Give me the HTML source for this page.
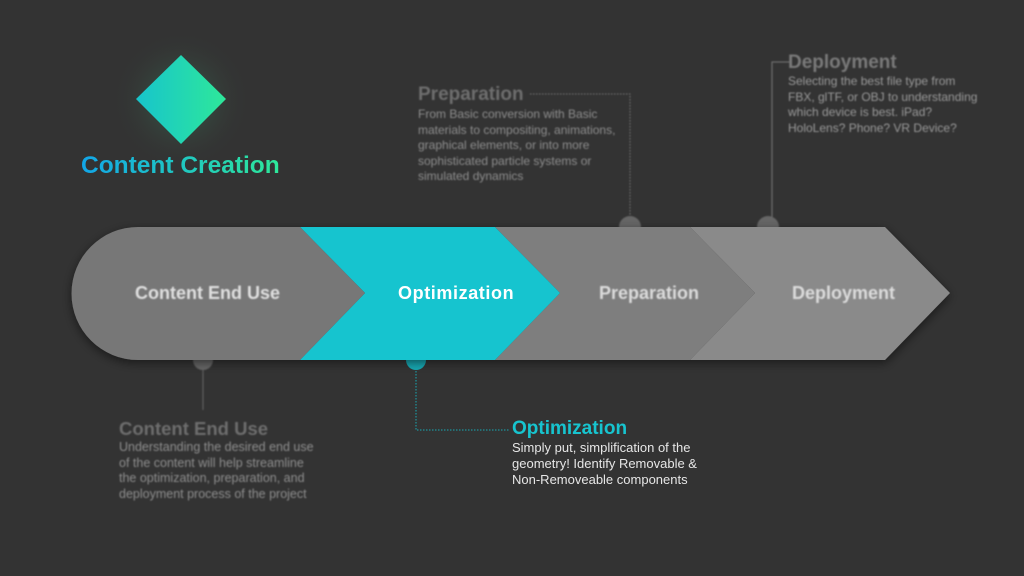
<!DOCTYPE html>
<html><head><meta charset="utf-8"><style>
html,body{margin:0;padding:0;width:1024px;height:576px;overflow:hidden;background:#333333;font-family:"Liberation Sans",sans-serif;}
.t{position:absolute;white-space:nowrap;}
.blur{filter:blur(0.8px);}
.h{font-weight:bold;font-size:18.5px;color:#6e6e6e;}
.p{font-size:12px;line-height:15.5px;color:#8e8e8e;}
</style></head><body>
<svg width="1024" height="576" style="position:absolute;left:0;top:0">
<defs>
<linearGradient id="g" x1="0" y1="0" x2="1" y2="0"><stop offset="0" stop-color="#17c4cc"/><stop offset="1" stop-color="#2ee89a"/></linearGradient>
<radialGradient id="glow"><stop offset="0" stop-color="#3a6e55" stop-opacity="0.8"/><stop offset="1" stop-color="#333" stop-opacity="0"/></radialGradient>
<filter id="sh" x="-10%" y="-20%" width="120%" height="140%"><feDropShadow dx="0" dy="3" stdDeviation="5" flood-color="#000" flood-opacity="0.5"/></filter>
<filter id="b"><feGaussianBlur stdDeviation="0.8"/></filter>
</defs>
<circle cx="181" cy="100" r="70" fill="url(#glow)"/>
<polygon points="181,55 226,99 181,144 136,99" fill="url(#g)"/>
<g filter="url(#b)">
<polyline points="530,94 630,94 630,218" fill="none" stroke="#777" stroke-width="1" stroke-dasharray="1.5,1.5"/>
<polyline points="790,62 772,62 772,218" fill="none" stroke="#777" stroke-width="1"/>
<circle cx="630" cy="227" r="11" fill="#666"/>
<circle cx="768" cy="227" r="11" fill="#666"/>
<line x1="203" y1="362" x2="203" y2="410" stroke="#666"/>
<circle cx="203" cy="360" r="10" fill="#666"/>
</g>
<circle cx="416" cy="360" r="10" fill="#17a8b3"/>
<polyline points="416,365 416,430 510,430" fill="none" stroke="#17a8b3" stroke-width="1" stroke-dasharray="1.5,1.5"/>
<g filter="url(#sh)">
<polygon points="690,227 885,227 950,293 885,360 690,360 755,293" fill="#8a8a8a"/>
<polygon points="495,227 690,227 755,293 690,360 495,360 560,293" fill="#7e7e7e"/>
<polygon points="300,227 495,227 560,293 495,360 300,360 365,293" fill="#16c4cf"/>
<path d="M138,227 L300,227 L365,293 L300,360 L138,360 A66,66 0 0 1 138,227 Z" fill="#777777"/>
</g>
</svg>
<div class="t" style="left:81px;top:152px;font-size:24.5px;font-weight:bold;background:linear-gradient(90deg,#12a6e8,#2ee89a);-webkit-background-clip:text;background-clip:text;color:transparent;">Content Creation</div>
<div class="t blur" style="left:135px;top:283px;font-size:18px;font-weight:bold;color:#e0e0e0">Content End Use</div>
<div class="t" style="left:398px;top:283px;font-size:18px;font-weight:bold;color:#fff;letter-spacing:0.6px">Optimization</div>
<div class="t blur" style="left:599px;top:283px;font-size:18px;font-weight:bold;color:#dcdcdc">Preparation</div>
<div class="t blur" style="left:792px;top:283px;font-size:18px;font-weight:bold;color:#dcdcdc">Deployment</div>
<div class="t blur h" style="left:418px;top:84px;font-size:19px">Preparation</div>
<div class="t blur p" style="left:418px;top:107px">From Basic conversion with Basic<br>materials to compositing, animations,<br>graphical elements, or into more<br>sophisticated particle systems or<br>simulated dynamics</div>
<div class="t blur h" style="left:788px;top:52px;color:#7a7a7a;font-size:19px">Deployment</div>
<div class="t blur p" style="left:788px;top:74px;color:#9a9a9a">Selecting the best file type from<br>FBX, glTF, or OBJ to understanding<br>which device is best. iPad?<br>HoloLens? Phone? VR Device?</div>
<div class="t blur h" style="left:119px;top:418px">Content End Use</div>
<div class="t blur p" style="left:119px;top:440px;font-size:12.5px">Understanding the desired end use<br>of the content will help streamline<br>the optimization, preparation, and<br>deployment process of the project</div>
<div class="t" style="left:512px;top:418px;font-size:19px;font-weight:bold;color:#17c4cf">Optimization</div>
<div class="t" style="left:512px;top:440px;font-size:13px;line-height:16px;color:#e6e6e6">Simply put, simplification of the<br>geometry! Identify Removable &amp;<br>Non-Removeable components</div>
</body></html>
